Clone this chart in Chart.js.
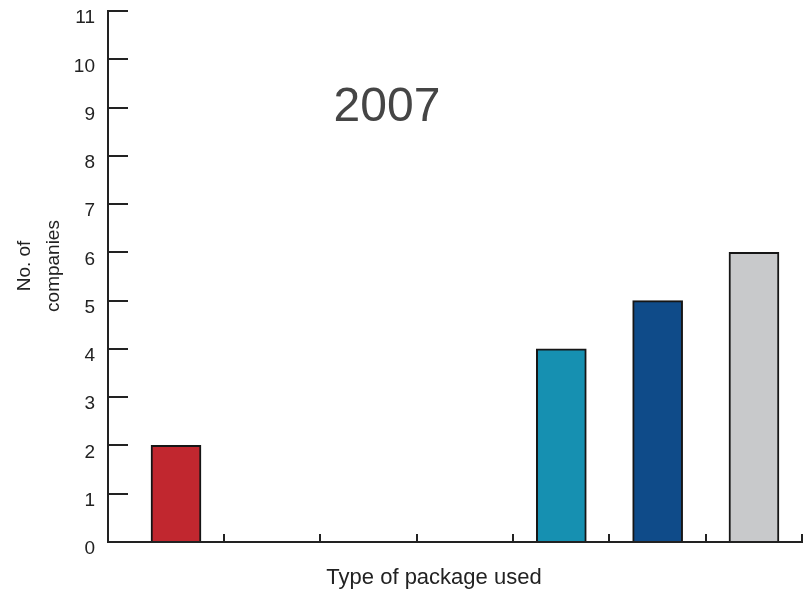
<!DOCTYPE html>
<html>
<head>
<meta charset="utf-8">
<script src="https://cdn.jsdelivr.net/npm/chart.js@4/dist/chart.umd.min.js"></script>
<style>
  html, body { margin: 0; padding: 0; background: #ffffff; }
  canvas { display: block; }
</style>
</head>
<body>
<canvas id="chart" width="803" height="591"></canvas>
<script>
// Number of companies per type of package (2007)
const categories = ['Package 1', 'Package 2', 'Package 3', 'Package 4', 'Package 5', 'Package 6', 'Package 7'];
const companies  = [2, 0, 0, 0, 4, 5, 6];
const barColors  = ['#c1272f', '#888888', '#888888', '#888888', '#1690b1', '#0f4b89', '#c8c9cb'];
const yTicks     = [0, 1, 2, 3, 4, 5, 6, 7, 8, 9, 10, 11];
const chartTitle = '2007';
const xTitle     = 'Type of package used';
const yTitle     = ['No. of', 'companies'];

const FONT = "'Liberation Sans', Arial, Helvetica, sans-serif";
const INK = '#222222';

// Tick marks sit on the category boundaries (between the bars)
const boundaries = categories.map((_, i) => i + 0.5);

const textPlugin = {
  id: 'chartTexts',
  afterDraw(chart) {
    const ctx = chart.ctx;
    ctx.save();
    ctx.textBaseline = 'alphabetic';
    ctx.textAlign = 'center';

    // year heading inside the plot
    ctx.fillStyle = '#454545';
    ctx.font = '48px ' + FONT;
    ctx.fillText(chartTitle, 387, 121);

    // x axis title
    ctx.fillStyle = INK;
    ctx.font = '22px ' + FONT;
    ctx.fillText(xTitle, 434, 584);

    // y axis title, rotated, two lines
    ctx.font = '19px ' + FONT;
    ctx.translate(0, 266);
    ctx.rotate(-Math.PI / 2);
    ctx.fillText(yTitle[0], 0, 30);
    ctx.fillText(yTitle[1], 0, 59);
    ctx.restore();
  }
};

new Chart(document.getElementById('chart'), {
  type: 'bar',
  data: {
    labels: categories,
    datasets: [{
      data: companies.map((v, i) => ({ x: i, y: v })),
      backgroundColor: barColors,
      borderColor: '#161616',
      borderWidth: 2,
      barThickness: 50
    }]
  },
  options: {
    responsive: false,
    devicePixelRatio: 1,
    animation: false,
    layout: { padding: { top: 11, right: 0, bottom: 0, left: 0 } },
    plugins: {
      legend: { display: false },
      tooltip: { enabled: false },
      title: { display: false }
    },
    scales: {
      x: {
        type: 'linear',
        bounds: 'data',
        min: -0.706,
        max: 6.509,
        offset: false,
        afterBuildTicks(scale) { scale.ticks = boundaries.map(v => ({ value: v })); },
        afterFit(scale) { scale.height = 49; },
        ticks: { display: false },
        grid: { offset: false, drawOnChartArea: false, drawTicks: true, tickLength: -8, color: INK, lineWidth: 2 },
        border: { display: true, color: INK, width: 2 }
      },
      y: {
        type: 'linear',
        min: 0,
        max: 11,
        afterBuildTicks(scale) { scale.ticks = yTicks.map(v => ({ value: v })); },
        afterFit(scale) {
          scale.width = 108;
          scale.paddingTop = 0;
          scale.paddingBottom = 0;
        },
        ticks: {
          color: INK,
          font: { family: FONT, size: 19 },
          padding: 33,
          labelOffset: 7
        },
        grid: { drawOnChartArea: false, drawTicks: true, tickLength: -20, color: INK, lineWidth: 2 },
        border: { display: true, color: INK, width: 2 }
      }
    }
  },
  plugins: [textPlugin]
});
</script>
</body>
</html>
